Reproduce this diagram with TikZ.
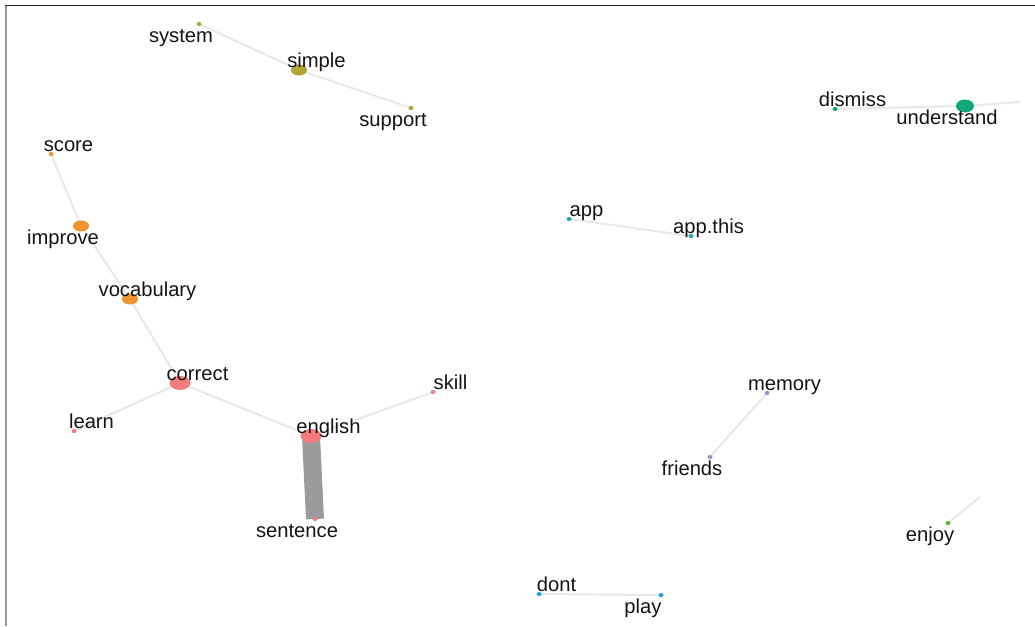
\documentclass[tikz,border=0pt]{standalone}
\usepackage{fontspec}
\setmainfont{Liberation Sans}
\usetikzlibrary{shapes.geometric, backgrounds}

\definecolor{olivegrp}{HTML}{B3A535}
\definecolor{orangegrp}{HTML}{F0952B}
\definecolor{redgrp}{HTML}{F27C7C}
\definecolor{tealgrp}{HTML}{17AFAA}
\definecolor{greengrp}{HTML}{10A878}
\definecolor{purplegrp}{HTML}{A68BCB}
\definecolor{leafgrp}{HTML}{5DAE3F}
\definecolor{bluegrp}{HTML}{17A3DD}
\definecolor{linkgrey}{HTML}{E8E8E8}
\definecolor{heavygrey}{HTML}{9B9B9E}

\tikzstyle{dot} = [ellipse, draw=none, inner sep=0pt, minimum width=5, minimum height=4]
\tikzstyle{bigdot} = [ellipse, draw=none, inner sep=0pt, minimum width=16, minimum height=11]
\tikzstyle{hubdot} = [ellipse, draw=none, inner sep=0pt, minimum width=21, minimum height=14]
\tikzstyle{word} = [font=\fontsize{20.2}{24}\selectfont, inner sep=0pt, text height=15pt, text depth=5pt, text=black!92]
\tikzstyle{link} = [line width=2, color=linkgrey]
\tikzstyle{heavylink} = [line width=18, color=heavygrey]
% label shifts are in page units (labels do not follow yscale)
\tikzset{
  wordabove/.style={label={[word, xshift=17.5pt, yshift=7.5pt]center:#1}},
  wordbelow/.style={label={[word, xshift=-18pt, yshift=-13pt]center:#1}}
}

\begin{document}
\begin{tikzpicture}[x=1pt, y=1pt, yscale=-1]

\useasboundingbox (0, 0) rectangle (1035, 626);

% frame
\draw [line width=1, color=black!85] (5, 6) -- (1035, 6);
\draw [line width=2, color=black!40] (5.5, 6) -- (5.5, 626);

% simple
\node at (199, 24) (system) [dot, fill=olivegrp, wordbelow=system] {};
\node at (299, 70) (simple) [bigdot, fill=olivegrp, wordabove=simple] {};
\node at (411, 108) (support) [dot, fill=olivegrp, wordbelow=support] {};

% improve / correct / english
\node at (51, 154) (score) [dot, fill=orangegrp, wordabove=score] {};
\node at (81, 226) (improve) [bigdot, fill=orangegrp, wordbelow=improve] {};
\node at (130, 299) (vocabulary) [bigdot, fill=orangegrp, wordabove=vocabulary] {};
\node at (180, 383) (correct) [hubdot, fill=redgrp, wordabove=correct] {};
\node at (74, 431) (learn) [dot, fill=redgrp, wordabove=learn] {};
\node at (311, 436) (english) [hubdot, fill=redgrp, wordabove=english] {};
\node at (433, 392) (skill) [dot, fill=redgrp, wordabove=skill] {};
\node at (315, 519) (sentence) [dot, fill=redgrp, wordbelow=sentence] {};

% app
\node at (569, 219) (app) [dot, fill=tealgrp, wordabove=app] {};
\node at (691, 236) (appthis) [dot, fill=tealgrp, wordabove=app.this] {};

% understand
\node at (835, 109) (dismiss) [dot, fill=greengrp, wordabove=dismiss] {};
\node at (965, 106) (understand) [bigdot, minimum width=18, minimum height=13, fill=greengrp, wordbelow=understand] {};
\coordinate (understandout) at (1020, 102);

% memory
\node at (767, 393) (memory) [dot, fill=purplegrp, wordabove=memory] {};
\node at (710, 457) (friends) [dot, fill=purplegrp, wordbelow=friends] {};

% enjoy
\node at (948, 523) (enjoy) [dot, fill=leafgrp, wordbelow=enjoy] {};
\coordinate (enjoyout) at (980, 497);

% play
\node at (539, 594) (dont) [dot, fill=bluegrp, wordabove=dont] {};
\node at (661, 595) (play) [dot, fill=bluegrp, wordbelow=play] {};

\begin{scope}[on background layer]
\draw [link] (system.center) -- (simple.center) -- (support.center);
\draw [link] (score.center) -- (improve.center) -- (vocabulary.center) -- (correct.center);
\draw [link] (learn.center) -- (correct.center) -- (english.center) -- (skill.center);
\draw [heavylink] (english.center) -- (sentence.center);
\draw [link] (app.center) -- (appthis.center);
\draw [link] (dismiss.center) -- (understand.center) -- (understandout);
\draw [link] (memory.center) -- (friends.center);
\draw [link] (enjoy.center) -- (enjoyout);
\draw [link] (dont.center) -- (play.center);
\end{scope}

\end{tikzpicture}
\end{document}
